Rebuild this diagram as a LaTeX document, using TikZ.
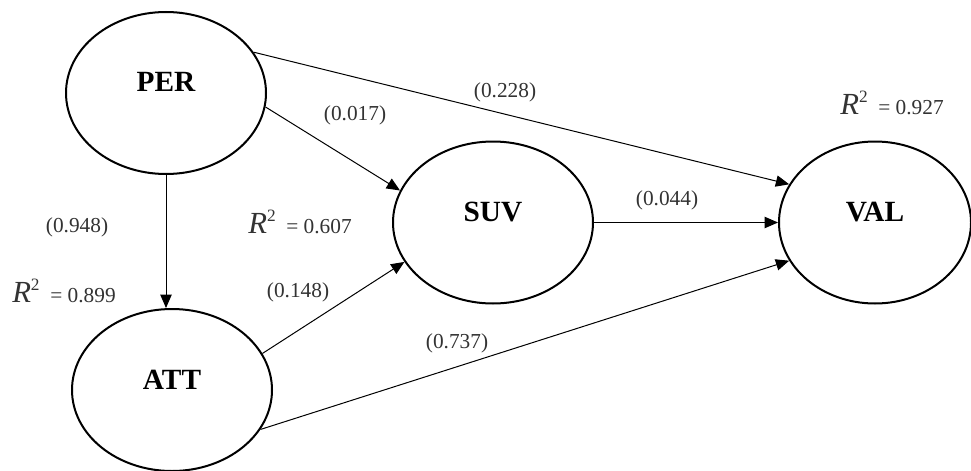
\documentclass[tikz,border=0pt]{standalone}
\usepackage{fontspec}
\setmainfont{Liberation Serif}
\usetikzlibrary{arrows.meta,shapes.geometric}
\newcommand\myrsq[1]{{\fontsize{23}{23}\selectfont\textit{R}}\raisebox{9pt}{\fontsize{13}{13}\selectfont 2}\hspace{8pt}= #1}
\begin{document}
\begin{tikzpicture}[x=0.75pt,y=-0.75pt,
  construct/.style={draw, ellipse, line width=1.5pt, minimum width=150pt, minimum height=121.5pt, inner sep=0pt, font=\fontsize{22}{22}\selectfont\bfseries},
  pathline/.style={line width=0.75pt, -{Triangle[length=10pt,width=8.5pt]}},
  coef/.style={font=\fontsize{16}{16}\selectfont, text=black!80, inner sep=0pt},
  rlabel/.style={font=\fontsize{16}{16}\selectfont, text=black!80, inner sep=0pt, anchor=base west},
]
\useasboundingbox (0,0) rectangle (971,471);

\node[construct] (PER) at (166,93) {\raisebox{16pt}{PER}};
\node[construct] (ATT) at (172,390) {\raisebox{16pt}{ATT}};
\node[construct] (SUV) at (493,222.5) {\raisebox{16pt}{SUV}};
\node[construct, minimum width=144pt] (VAL) at (875,222.5) {\raisebox{16pt}{VAL}};

\draw[pathline] (PER.south) -- (PER.south |- ATT.north);
\draw[pathline] (PER.-8) -- (SUV.161);
\draw[pathline] (PER.25) -- (VAL.156);
\draw[pathline] (SUV.east) -- (VAL.west);
\draw[pathline] (ATT.22) -- (SUV.204);
\draw[pathline] (ATT.-24) -- (VAL.204);

\node[coef] (c228) at (505,92) {(0.228)};
\node[coef] (c017) at (355,115) {(0.017)};
\node[coef] (c948) at (77,227) {(0.948)};
\node[coef] (c148) at (298,292) {(0.148)};
\node[coef] (c737) at (457,343) {(0.737)};
\node[coef] (c044) at (667,200) {(0.044)};

\node[rlabel] (r607) at (248,233) {\myrsq{0.607}};
\node[rlabel] (r899) at (12,302) {\myrsq{0.899}};
\node[rlabel] (r927) at (840,114) {\myrsq{0.927}};
\end{tikzpicture}
\end{document}
